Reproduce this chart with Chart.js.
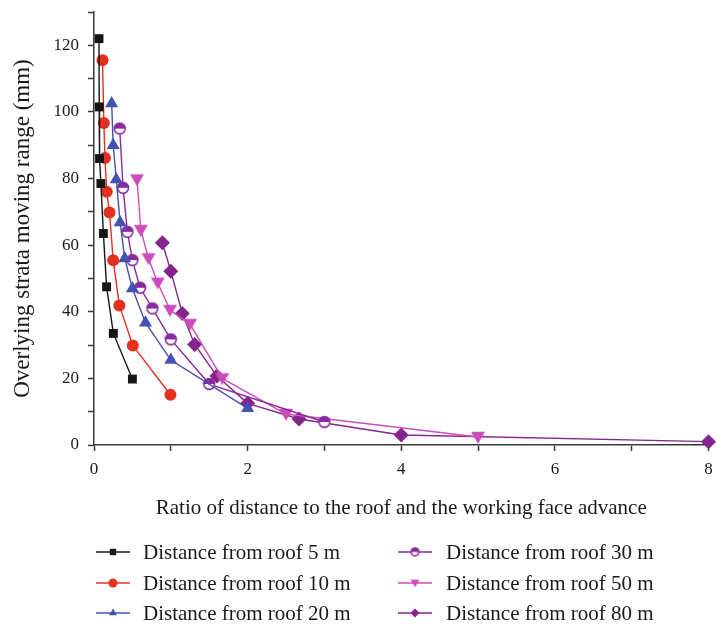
<!DOCTYPE html>
<html>
<head>
<meta charset="utf-8">
<script src="https://cdn.jsdelivr.net/npm/chart.js@4"></script>
<style>
  body { margin: 0; background: #fff; }
  #wrap { width: 716px; height: 625px; }
</style>
</head>
<body>
<div id="wrap"><canvas id="grafico" width="716" height="625"></canvas></div>
<script>
// valores
const nomesSeries = ['Distance from roof 5 m', 'Distance from roof 10 m', 'Distance from roof 20 m',
                     'Distance from roof 30 m', 'Distance from roof 50 m', 'Distance from roof 80 m'];

const x5 = [0.065, 0.068, 0.072, 0.09, 0.122, 0.164, 0.252, 0.5];
const y5 = [122, 101.5, 86, 78.5, 63.5, 47.5, 33.5, 19.8];

const x10 = [0.111, 0.128, 0.143, 0.166, 0.202, 0.25, 0.33, 0.505, 0.995];
const y10 = [115.5, 96.7, 86.2, 76, 69.8, 55.5, 41.9, 29.9, 15.1];

const x20 = [0.23, 0.25, 0.29, 0.34, 0.4, 0.5, 0.67, 1.0, 2.0];
const y20 = [102.5, 90, 79.7, 66.8, 56, 47, 36.7, 25.5, 11];

const x30 = [0.335, 0.378, 0.435, 0.5, 0.6, 0.76, 1.0, 1.5, 3.0];
const y30 = [95, 77.2, 64, 55.5, 47.2, 41, 31.7, 18.3, 6.9];

const x50 = [0.56, 0.61, 0.71, 0.83, 0.99, 1.25, 1.67, 2.5, 5.0];
const y50 = [79.7, 64.5, 56, 48.7, 40.5, 36.3, 20, 9.3, 2.4];

const x80 = [0.89, 1.0, 1.15, 1.31, 1.6, 2.0, 2.67, 4.0, 8.0];
const y80 = [60.7, 52.2, 39.5, 30.2, 20.7, 12.5, 7.8, 3.0, 1.0];

const cores = ['#151515', '#e3301f', '#4450b2', '#8a2a9f', '#cc4dba', '#86248f'];
const estilos = ['rect', 'circle', 'triangle', 'meio', 'trianguloInv', 'rectRot'];

const fonteSerif = '"Liberation Serif", "DejaVu Serif", serif';

function juntar(xs, ys) {
    return xs.map((x, i) => ({ x: x, y: ys[i] }));
}

// marcador de círculo meio preenchido (30 m)
function circuloMeio(cor, r) {
    const c = document.createElement('canvas');
    const s = r * 2 + 4;
    c.width = s; c.height = s;
    const g = c.getContext('2d');
    const m = s / 2;
    g.fillStyle = '#fff';
    g.beginPath(); g.arc(m, m, r, 0, Math.PI * 2); g.fill();
    g.fillStyle = cor;
    g.beginPath(); g.arc(m, m, r, Math.PI, 0); g.closePath(); g.fill();
    g.strokeStyle = cor; g.lineWidth = 1.6;
    g.beginPath(); g.arc(m, m, r - 0.6, 0, Math.PI * 2); g.stroke();
    return c;
}

// triângulo invertido (50 m)
function trianguloInv(cor, r) {
    const c = document.createElement('canvas');
    const s = r * 2 + 4;
    c.width = s; c.height = s;
    const g = c.getContext('2d');
    const m = s / 2;
    g.fillStyle = cor;
    g.beginPath();
    g.moveTo(m - r, m - r * 0.75);
    g.lineTo(m + r, m - r * 0.75);
    g.lineTo(m, m + r * 0.95);
    g.closePath(); g.fill();
    return c;
}

function estiloPonto(i, r) {
    if (estilos[i] === 'meio') return circuloMeio(cores[i], r);
    if (estilos[i] === 'trianguloInv') return trianguloInv(cores[i], r);
    return estilos[i];
}

const xs = [x5, x10, x20, x30, x50, x80];
const ys = [y5, y10, y20, y30, y50, y80];
const raios = [6.3, 6, 7.5, 6, 7, 7.5];
const raiosImg = [0, 0, 0, 6, 7, 0];

const datasets = nomesSeries.map((nome, i) => ({
    label: nome,
    data: juntar(xs[i], ys[i]),
    borderColor: cores[i],
    backgroundColor: cores[i],
    borderWidth: 1.4,
    pointStyle: estiloPonto(i, raiosImg[i] || 6),
    pointRadius: raios[i],
    pointBorderWidth: 0,
    pointBorderColor: cores[i],
    tension: 0,
    clip: false
}));

// legenda em duas colunas
const legendaPlugin = {
    id: 'legendaColunas',
    afterDraw(chart) {
        const ctx = chart.ctx;
        const colunas = [{ x: 96, tx: 143 }, { x: 398, tx: 446 }];
        const linhas = [552, 583, 613];
        ctx.save();
        ctx.font = '21px ' + fonteSerif;
        ctx.textBaseline = 'middle';
        nomesSeries.forEach((nome, i) => {
            const col = colunas[Math.floor(i / 3)];
            const y = linhas[i % 3];
            ctx.strokeStyle = cores[i];
            ctx.lineWidth = 1.6;
            ctx.beginPath();
            ctx.moveTo(col.x, y);
            ctx.lineTo(col.x + 34, y);
            ctx.stroke();
            const estilo = estiloPonto(i, 4.5);
            ctx.fillStyle = cores[i];
            Chart.helpers.drawPoint(ctx, {
                pointStyle: estilo, radius: 4.5, rotation: 0, borderWidth: 0
            }, col.x + 17, y);
            ctx.fillStyle = '#1a1a1a';
            ctx.fillText(nome, col.tx, y + 1);
        });
        ctx.restore();
    }
};

new Chart(document.getElementById('grafico'), {
    type: 'line',
    data: { datasets: datasets },
    options: {
        responsive: false,
        animation: false,
        layout: { padding: { left: 0, right: 5, top: 12, bottom: 100 } },
        plugins: {
            legend: { display: false },
            tooltip: { enabled: false }
        },
        scales: {
            x: {
                type: 'linear',
                min: 0, max: 8,
                border: { color: '#3a3a3a', width: 1.5 },
                grid: { drawOnChartArea: false, tickLength: 6, tickColor: '#3a3a3a', tickWidth: 1.5 },
                ticks: {
                    stepSize: 1,
                    color: '#1a1a1a',
                    padding: 8,
                    maxRotation: 0,
                    font: { family: fonteSerif, size: 17 },
                    callback: (v) => (v % 2 === 0 ? v : '')
                },
                title: {
                    display: true,
                    text: 'Ratio of distance to the roof and the working face advance',
                    color: '#1a1a1a',
                    font: { family: fonteSerif, size: 21 },
                    padding: { top: 5 }
                },
                afterFit(scale) {
                    scale.height = 80;
                    scale.paddingLeft = 0;
                    scale.paddingRight = 0;
                }
            },
            y: {
                type: 'linear',
                min: 0, max: 130,
                border: { color: '#3a3a3a', width: 1.5 },
                grid: { drawOnChartArea: false, tickLength: 6, tickColor: '#3a3a3a', tickWidth: 1.5 },
                ticks: {
                    stepSize: 10,
                    color: '#1a1a1a',
                    padding: 9,
                    font: { family: fonteSerif, size: 17 },
                    callback: (v) => (v % 20 === 0 && v <= 120 ? v : '')
                },
                title: {
                    display: true,
                    text: 'Overlying strata moving range (mm)',
                    color: '#1a1a1a',
                    font: { family: fonteSerif, size: 23 },
                    padding: { top: 9, bottom: 0 }
                },
                afterFit(scale) {
                    scale.width = 94;
                    scale.paddingTop = 0;
                    scale.paddingBottom = 0;
                }
            }
        }
    },
    plugins: [legendaPlugin]
});
</script>
</body>
</html>
